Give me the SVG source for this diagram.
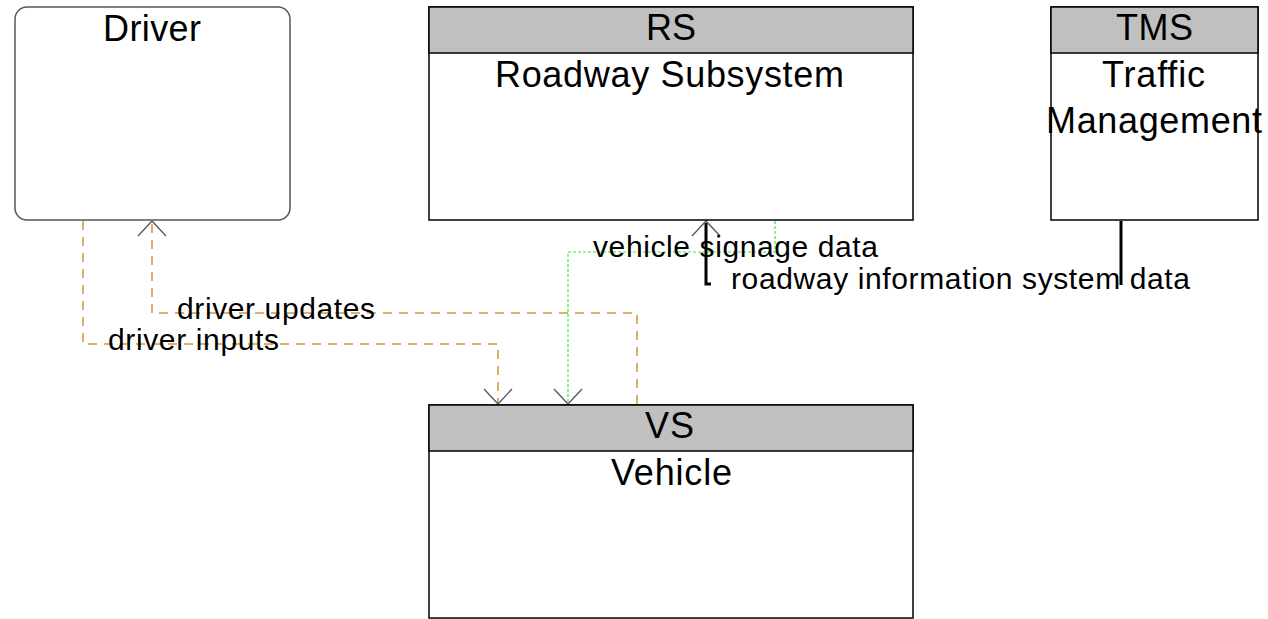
<svg xmlns="http://www.w3.org/2000/svg" width="1268" height="619" viewBox="0 0 1268 619">
<style>
.box{fill:#fff;stroke:#000;stroke-width:1.5}
.hdr{fill:#c0c0c0;stroke:#000;stroke-width:1.5}
.t{font-family:"Liberation Sans",Arial,sans-serif;font-size:36px;fill:#000}
.lbl{font-family:"Liberation Sans",Arial,sans-serif;font-size:30px;fill:#000}
.orange{fill:none;stroke:#d09a35;stroke-width:1.5;stroke-dasharray:9 7}
.green{fill:none;stroke:#33ee33;stroke-width:1.2;stroke-dasharray:3 2}
.black{fill:none;stroke:#000;stroke-width:3}
.ah{fill:none;stroke:#555;stroke-width:1.3}
</style>
<rect width="1268" height="619" fill="#fff"/>
<g id="connectors">
  <path class="orange" d="M83,221 V344 H498 V403"/>
  <path class="ah" d="M484,389 L498,404 L512,389"/>
  <path class="orange" d="M637,404 V313 H152 V222"/>
  <path class="ah" d="M138,236 L152,221 L166,236"/>
  <path class="green" d="M775,221 V252 H568 V403"/>
  <path class="ah" d="M554,389 L568,404 L582,389"/>
  <path class="black" d="M706,223 V284 H711"/>
  <path class="black" d="M1121,221 V285"/>
  <path class="ah" d="M692,236 L706,221 L720,236"/>
  <text class="lbl" x="593" y="257" textLength="285" lengthAdjust="spacing">vehicle signage data</text>
  <text class="lbl" x="731" y="289" textLength="459" lengthAdjust="spacing">roadway information system data</text>
  <text class="lbl" x="177" y="319" textLength="198" lengthAdjust="spacing">driver updates</text>
  <text class="lbl" x="108" y="350" textLength="171" lengthAdjust="spacing">driver inputs</text>
</g>
<g id="driver">
  <rect x="15" y="7" width="275" height="213" rx="12" fill="#fff" stroke="#555" stroke-width="1.5"/>
  <text class="t" x="103" y="41" textLength="98" lengthAdjust="spacing">Driver</text>
</g>
<g id="rs">
  <rect class="box" x="429" y="7" width="484" height="213"/>
  <rect class="hdr" x="429" y="7" width="484" height="46"/>
  <text class="t" x="646" y="40" textLength="50" lengthAdjust="spacing">RS</text>
  <text class="t" x="495" y="87" textLength="349" lengthAdjust="spacing">Roadway Subsystem</text>
</g>
<g id="tms">
  <rect class="box" x="1051" y="7" width="207" height="213"/>
  <rect class="hdr" x="1051" y="7" width="207" height="46"/>
  <text class="t" x="1116" y="40" textLength="77" lengthAdjust="spacing">TMS</text>
  <text class="t" x="1102" y="87" textLength="103" lengthAdjust="spacing">Traffic</text>
  <text class="t" x="1046" y="133" textLength="216" lengthAdjust="spacing">Management</text>
</g>
<g id="vs">
  <rect class="box" x="429" y="405" width="484" height="213"/>
  <rect class="hdr" x="429" y="405" width="484" height="46"/>
  <text class="t" x="645" y="438" textLength="49" lengthAdjust="spacing">VS</text>
  <text class="t" x="611" y="485" textLength="121" lengthAdjust="spacing">Vehicle</text>
</g>
</svg>
